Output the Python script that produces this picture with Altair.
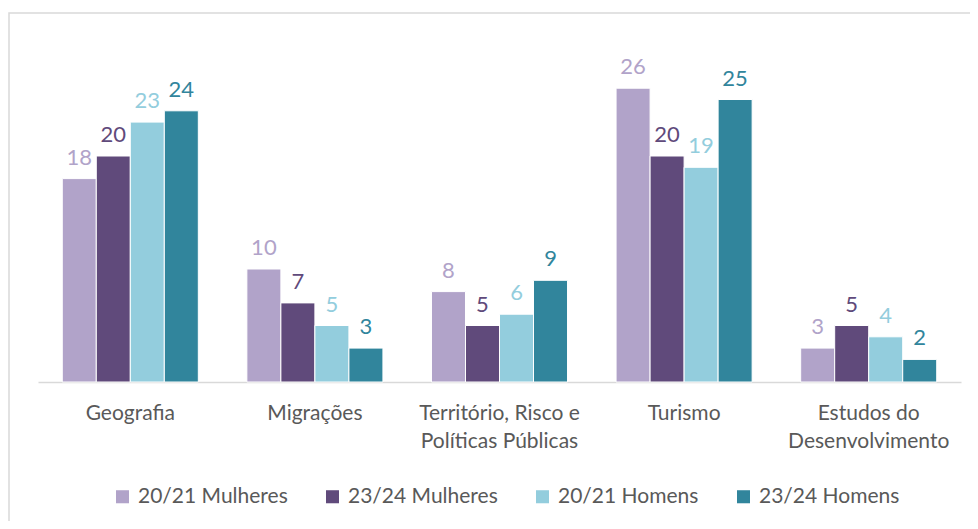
import altair as alt
import pandas as pd

categories = ["Geografia", "Migrações", "Território, Risco e Políticas Públicas", "Turismo", "Estudos do Desenvolvimento"]
series = ["20/21 Mulheres", "23/24 Mulheres", "20/21 Homens", "23/24 Homens"]
colors = ["#B1A3C9", "#604A7B", "#93CDDD", "#31859C"]
m2021 = [18, 10, 8, 26, 3]
m2324 = [20, 7, 5, 20, 5]
h2021 = [23, 5, 6, 19, 4]
h2324 = [24, 3, 9, 25, 2]

rows = []
for i, c in enumerate(categories):
    for s, vals in zip(series, [m2021, m2324, h2021, h2324]):
        rows.append({"cat": c, "serie": s, "valor": vals[i]})
df = pd.DataFrame(rows)

FONT = "Lato"
label_expr = ("datum.label == 'Território, Risco e Políticas Públicas' ? ['Território, Risco e', 'Políticas Públicas'] : "
              "datum.label == 'Estudos do Desenvolvimento' ? ['Estudos do', 'Desenvolvimento'] : datum.label")

x = alt.X("cat:N", sort=categories, title=None,
          scale=alt.Scale(paddingInner=0.263, paddingOuter=0.1315),
          axis=alt.Axis(labelExpr=label_expr, labelAngle=0, labelFontSize=21, labelColor="#595959",
                        labelFont=FONT, labelPadding=31, labelLineHeight=28, ticks=False,
                        domainColor="#D9D9D9", domainWidth=1.5, labelBaseline="middle"))
y = alt.Y("valor:Q", scale=alt.Scale(domain=[0, 30]), axis=None)
color = alt.Color("serie:N", sort=series, scale=alt.Scale(domain=series, range=colors),
                  legend=alt.Legend(title=None, orient="none", direction="horizontal", legendX=74, legendY=443,
                                    labelFontSize=21, labelColor="#595959", labelFont=FONT,
                                    symbolType="square", symbolSize=170, symbolStrokeWidth=0,
                                    columnPadding=34, labelOffset=5))
xoff = alt.XOffset("serie:N", sort=series, scale=alt.Scale(domain=series, paddingInner=0))

base = alt.Chart(df)
bars = base.mark_bar(stroke="white", strokeWidth=1).encode(x=x, y=y, color=color, xOffset=xoff)
texts = base.mark_text(baseline="bottom", dy=-9, fontSize=22, font=FONT).encode(
    x=x, y=y, xOffset=xoff, text="valor:Q",
    color=alt.Color("serie:N", sort=series, scale=alt.Scale(domain=series, range=colors), legend=None))

border = alt.Chart(pd.DataFrame({"a": [0]})).mark_rect(fill=None, stroke="#D9D9D9", strokeWidth=1.5, clip=False).encode(
    x=alt.value(-29), x2=alt.value(960), y=alt.value(-30), y2=alt.value(520))

chart = alt.layer(border, bars, texts).properties(
    width=923, height=339,
    autosize=alt.AutoSizeParams(type="none"),
    padding={"left": 30, "top": 35, "right": 9, "bottom": 139},
).configure_view(stroke=None)

chart.save("out.html", embed_options={"renderer": "svg", "actions": False})
